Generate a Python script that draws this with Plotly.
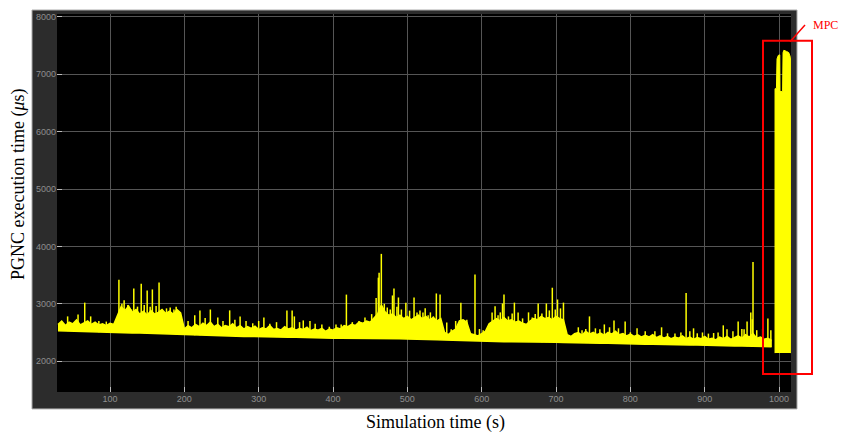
import numpy as np
import plotly.graph_objects as go

# ---- data ----
# upper edge of the dense band, every 5 s from 30 s to 990 s
hi_t = list(range(30, 995, 5))
band_hi = [2640, 2700, 2620, 2680, 2650, 2720, 2630, 2660, 2700, 2640,
           2680, 2630, 2650, 2620, 2660, 2640, 2780, 2950, 2880, 2960,
           2850, 2900, 2820, 2870, 2800, 2880, 2820, 2850, 2900, 2830,
           2870, 2820, 2900, 2840, 2560, 2620, 2580, 2640, 2600, 2660,
           2620, 2680, 2600, 2640, 2580, 2620, 2600, 2650, 2580, 2620,
           2560, 2600, 2570, 2610, 2550, 2580, 2560, 2620, 2550, 2570,
           2540, 2600, 2560, 2580, 2540, 2570, 2550, 2590, 2530, 2560,
           2540, 2570, 2520, 2560, 2540, 2580, 2560, 2620, 2600, 2640,
           2620, 2680, 2660, 2700, 2680, 2760, 2820, 2980, 2860, 2800,
           2820, 2760, 2800, 2740, 2780, 2720, 2760, 2800, 2740, 2780,
           2720, 2760, 2700, 2740, 2500, 2460, 2520, 2560, 2700, 2720,
           2680, 2480, 2460, 2440, 2480, 2520, 2650, 2700, 2740, 2700,
           2760, 2700, 2720, 2680, 2700, 2660, 2640, 2700, 2740, 2720,
           2780, 2740, 2760, 2720, 2780, 2740, 2720, 2460, 2430, 2480,
           2500, 2450, 2520, 2470, 2500, 2460, 2490, 2450, 2500, 2470,
           2520, 2460, 2480, 2440, 2470, 2430, 2460, 2420, 2450, 2420,
           2460, 2410, 2440, 2400, 2430, 2390, 2420, 2400, 2440, 2390,
           2420, 2380, 2410, 2390, 2430, 2380, 2400, 2370, 2420, 2390,
           2430, 2380, 2410, 2440, 2400, 2460, 2420, 2480, 2400, 2420,
           2380, 2400, 2360]
# lower edge of the band, every 10 s
lo_t = list(range(30, 1000, 10))
band_lo = [2530, 2525, 2520, 2515, 2510, 2505, 2500, 2500, 2495, 2495,
           2490, 2490, 2485, 2485, 2480, 2475, 2470, 2460, 2455, 2450,
           2450, 2445, 2445, 2440, 2435, 2430, 2430, 2425, 2425, 2420,
           2420, 2415, 2415, 2410, 2410, 2405, 2405, 2400, 2400, 2400,
           2400, 2400, 2400, 2395, 2395, 2390, 2390, 2385, 2385, 2380,
           2380, 2375, 2370, 2365, 2360, 2360, 2355, 2350, 2345, 2345,
           2340, 2340, 2340, 2335, 2335, 2330, 2330, 2330, 2325, 2320,
           2320, 2315, 2315, 2310, 2310, 2305, 2305, 2300, 2300, 2295,
           2295, 2290, 2290, 2285, 2285, 2280, 2280, 2275, 2275, 2270,
           2270, 2265, 2265, 2260, 2260, 2255, 2250]

spike_t = [43, 57, 66, 74, 85, 95, 112, 116, 119, 124, 129, 132, 137, 142, 146,
           150, 154, 157, 162, 166, 170, 176, 181, 186, 189, 205, 214, 221, 228,
           235, 245, 252, 261, 268, 275, 283, 292, 300, 307, 315, 324, 338, 345,
           348, 355, 360, 369, 376, 385, 395, 404, 411, 418, 426, 435, 443, 452,
           458, 461, 462, 465, 469, 473, 477, 480, 482, 486, 488, 492, 498, 503,
           509, 513, 517, 521, 524, 528, 531, 535, 539, 544, 553, 559, 565, 572,
           580, 591, 597, 602, 614, 618, 622, 625, 628, 630, 636, 641, 644, 649,
           655, 663, 668, 672, 676, 681, 687, 691, 695, 699, 702, 706, 710, 730,
           735, 740, 745, 753, 759, 765, 772, 778, 784, 793, 800, 809, 820, 833,
           842, 850, 860, 868, 875, 880, 885, 890, 897, 905, 912, 918, 925, 930,
           938, 945, 950, 953, 957, 962, 964, 965, 970, 978, 985, 989]
spike_v = [2780, 2815, 3020, 2780, 2700, 2690, 3420, 3000, 3060, 2980, 2900, 3265,
           2950, 3350, 2980, 3230, 2950, 3250, 2960, 3370, 2900, 2920, 2935, 2900,
           2950, 2700, 2800, 2885, 2750, 2900, 2760, 2700, 2885, 2720, 2780, 2700,
           2660, 2700, 2760, 2650, 2680, 2885, 2884, 2780, 2680, 2710, 2700, 2650,
           2640, 2600, 2640, 2640, 3160, 2680, 2700, 2760, 2820, 3100, 3455, 3540,
           3870, 3000, 2935, 2900, 3145, 3265, 2950, 3110, 2900, 3020, 2880, 3110,
           2850, 2884, 2850, 2920, 2800, 2850, 2780, 3180, 3160, 2675, 2555, 2700,
           3020, 2720, 3510, 2560, 2537, 2850, 2955, 2800, 2850, 3005, 3160, 2780,
           2830, 3020, 2850, 2745, 2850, 2760, 2820, 3005, 2830, 3005, 2884, 3280,
           2900, 3075, 2920, 3020, 2590, 2537, 2560, 2780, 2572, 2555, 2640, 2590,
           2710, 2572, 2693, 2503, 2572, 2520, 2520, 2590, 2485, 2480, 2500, 3190,
           2520, 2572, 2485, 2500, 2480, 2490, 2500, 2624, 2555, 2520, 2693, 2560,
           2555, 2693, 2850, 2730, 3730, 2540, 2560, 2745, 2540]

mpc_t = [994.6, 994.6, 996.5, 997.3, 999, 1001.0, 1001.3, 1004.8, 1005.4,
         1006.5, 1010, 1013, 1014.8, 1015.6, 1015.6]
mpc_v = [2140, 6750, 6750, 7270, 7330, 7340, 6700, 6700, 7380,
         7420, 7400, 7380, 7320, 7250, 2140]

x_ticks = [100, 200, 300, 400, 500, 600, 700, 800, 900, 1000]
y_ticks = [2000, 3000, 4000, 5000, 6000, 7000, 8000]

YEL = "#ffff00"

fig = go.Figure()
# dense band
fig.add_trace(go.Scatter(x=lo_t, y=band_lo, mode="lines",
                         line=dict(color=YEL, width=1.5), showlegend=False))
fig.add_trace(go.Scatter(x=hi_t, y=band_hi, mode="lines", fill="tonexty",
                         fillcolor=YEL, line=dict(color=YEL, width=1.5),
                         showlegend=False))
# spikes
sx, sy = [], []
base = np.interp(spike_t, lo_t, band_lo)
for t, v, b in zip(spike_t, spike_v, base):
    sx += [t, t, None]
    sy += [b, v, None]
fig.add_trace(go.Scatter(x=sx, y=sy, mode="lines",
                         line=dict(color=YEL, width=1.5), showlegend=False))
# MPC block
fig.add_trace(go.Scatter(x=mpc_t, y=mpc_v, mode="lines", fill="toself",
                         fillcolor=YEL, line=dict(color=YEL, width=1),
                         showlegend=False))

L, R, T, B = 57, 51, 12, 42
W, H = 842, 434
pw, ph = W - L - R, H - T - B


def px(x):
    return (x - L) / pw


def py(y):
    return (H - B - y) / ph


FR = "#2c2c2c"
shapes = [
    dict(type="rect", xref="paper", yref="paper", x0=px(32), x1=px(57), y0=py(409), y1=py(8),
         fillcolor=FR, line=dict(width=0), layer="below"),
    dict(type="rect", xref="paper", yref="paper", x0=px(791), x1=px(797), y0=py(409), y1=py(8),
         fillcolor=FR, line=dict(width=0), layer="below"),
    dict(type="rect", xref="paper", yref="paper", x0=px(32), x1=px(797), y0=py(12), y1=py(8),
         fillcolor=FR, line=dict(width=0), layer="below"),
    dict(type="rect", xref="paper", yref="paper", x0=px(32), x1=px(797), y0=py(409), y1=py(392),
         fillcolor=FR, line=dict(width=0), layer="below"),
    dict(type="rect", xref="paper", yref="paper", x0=px(32), x1=px(797), y0=py(409), y1=py(8),
         fillcolor="rgba(0,0,0,0)", line=dict(color="#a8a8a8", width=1), layer="above"),
    # red highlight box
    dict(type="rect", xref="paper", yref="paper", x0=px(763), x1=px(812), y0=py(374), y1=py(39),
         fillcolor="rgba(0,0,0,0)", line=dict(color="#ff0000", width=2), layer="above"),
    dict(type="line", xref="paper", yref="paper", x0=px(790), x1=px(805), y0=py(40), y1=py(23),
         line=dict(color="#ff0000", width=1.5), layer="above"),
]

annotations = [
    dict(text="MPC", xref="paper", yref="paper", x=px(811), y=py(23), xanchor="left",
         yanchor="middle", showarrow=False,
         font=dict(family="Liberation Serif, Times New Roman, serif", size=12, color="#ff0000")),
    dict(text="PGNC execution time (<i>μ</i>s)", xref="paper", yref="paper", x=px(18), y=py(183),
         xanchor="center", yanchor="middle", textangle=-90, showarrow=False,
         font=dict(family="Liberation Serif, Times New Roman, serif", size=18, color="#000000")),
    dict(text="Simulation time (s)", xref="paper", yref="paper", x=px(435), y=py(423),
         xanchor="center", yanchor="middle", showarrow=False,
         font=dict(family="Liberation Serif, Times New Roman, serif", size=18, color="#000000")),
]

axis_common = dict(showgrid=True, gridcolor="#555555", gridwidth=1, zeroline=False,
                   ticks="inside", ticklen=5, tickcolor="#bbbbbb", showline=False,
                   tickfont=dict(family="Liberation Sans, Arial, sans-serif", size=9,
                                 color="#8e8e8e"))

fig.update_layout(
    width=W, height=H,
    margin=dict(l=L, r=R, t=T, b=B),
    paper_bgcolor="white", plot_bgcolor="black",
    xaxis=dict(range=[28.7, 1016.1], tickvals=x_ticks, **axis_common),
    yaxis=dict(range=[1462, 8052], tickvals=y_ticks, **axis_common),
    shapes=shapes, annotations=annotations, showlegend=False,
)

fig.write_html("out.html")
